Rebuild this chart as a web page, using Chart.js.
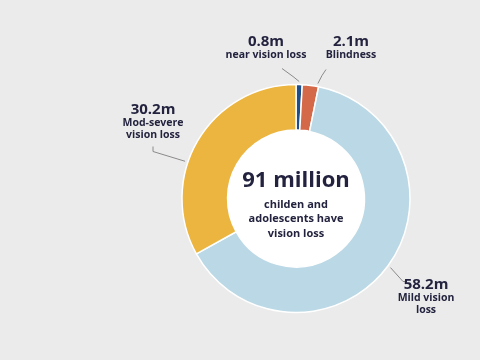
<!DOCTYPE html>
<html>
<head>
<meta charset="utf-8">
<script src="https://cdn.jsdelivr.net/npm/chart.js@4.4.0/dist/chart.umd.min.js"></script>
<style>
  html, body { margin: 0; padding: 0; background: #ebebeb; }
  canvas { display: block; }
</style>
</head>
<body>
<canvas id="chart" width="480" height="360"></canvas>
<script>
/* ================= DATA ================= */
const categories = ["near vision loss", "Blindness", "Mild vision loss", "Mod-severe vision loss"];
const values = [0.8, 2.1, 58.2, 30.2];
const valueLabels = ["0.8m", "2.1m", "58.2m", "30.2m"];
const labelLines = [["near vision loss"], ["Blindness"], ["Mild vision", "loss"], ["Mod-severe", "vision loss"]];
const centerTitle = "91 million";
const centerLines = ["childen and", "adolescents have", "vision loss"];

/* ================= STYLE ================= */
const COLORS = ["#1d4e89", "#d4694a", "#bad8e5", "#ebb540"];
const INK = "#23233f";
const FONT = "'Open Sans', sans-serif";

// label placement, relative to the donut centre (text x, baseline y)
// anchor = where on the slice the leader starts (0..1), elbow/end = leader path
const LABEL_POS = [
  { x: -30, y: -153, anchor: 0.5, elbow: [-3, -122], end: [-14, -130] },
  { x: 55, y: -153, anchor: 0.92, elbow: [26, -123], end: [30, -129] },
  { x: 130, y: 90, anchor: 0.5, elbow: [107, 83], end: [110, 83] },
  { x: -143, y: -85, anchor: 0.4, elbow: [-143, -47], end: [-143, -52] }
];

/* ================= PLUGINS ================= */
const centerText = {
  id: "centerText",
  beforeDatasetsDraw(chart) {
    // white hole in the middle of the ring
    const arc = chart.getDatasetMeta(0).data[0];
    const ctx = chart.ctx;
    ctx.save();
    ctx.fillStyle = "#ffffff";
    ctx.beginPath();
    ctx.arc(arc.x, arc.y, arc.innerRadius, 0, Math.PI * 2);
    ctx.fill();
    ctx.restore();
  },
  afterDraw(chart) {
    const arc = chart.getDatasetMeta(0).data[0];
    const { x, y } = arc;
    const ctx = chart.ctx;
    ctx.save();
    ctx.fillStyle = INK;
    ctx.textAlign = "center";
    ctx.textBaseline = "alphabetic";
    ctx.font = `bold 22px ${FONT}`;
    ctx.fillText(centerTitle, x, y - 12);
    ctx.font = `bold 11px ${FONT}`;
    centerLines.forEach((line, i) => ctx.fillText(line, x, y + 9 + i * 14.5));
    ctx.restore();
  }
};

const sliceLabels = {
  id: "sliceLabels",
  afterDraw(chart) {
    const arcs = chart.getDatasetMeta(0).data;
    const ctx = chart.ctx;
    ctx.save();
    arcs.forEach((arc, i) => {
      const pos = LABEL_POS[i];
      const cx = arc.x, cy = arc.y;
      const a = arc.startAngle + (arc.endAngle - arc.startAngle) * pos.anchor;
      const r = arc.outerRadius + 3;

      // leader line
      ctx.strokeStyle = "#8a8a8a";
      ctx.lineWidth = 1;
      ctx.beginPath();
      ctx.moveTo(cx + Math.cos(a) * r, cy + Math.sin(a) * r);
      ctx.lineTo(cx + pos.elbow[0], cy + pos.elbow[1]);
      ctx.lineTo(cx + pos.end[0], cy + pos.end[1]);
      ctx.stroke();

      // value + name
      const tx = cx + pos.x, ty = cy + pos.y;
      ctx.fillStyle = INK;
      ctx.textAlign = "center";
      ctx.textBaseline = "alphabetic";
      ctx.font = `bold 15px ${FONT}`;
      ctx.fillText(valueLabels[i], tx, ty);
      ctx.font = `bold 10.5px ${FONT}`;
      labelLines[i].forEach((line, j) => ctx.fillText(line, tx, ty + 12.5 + j * 12));
    });
    ctx.restore();
  }
};

/* ================= CHART ================= */
new Chart(document.getElementById("chart"), {
  type: "doughnut",
  data: {
    labels: categories,
    datasets: [{
      data: values,
      backgroundColor: COLORS,
      borderColor: "#ffffff",
      borderWidth: 1.5,
      radius: 114,
      cutout: 68
    }]
  },
  options: {
    responsive: false,
    animation: false,
    layout: { padding: { left: 182, right: 70, top: 84, bottom: 47 } },
    plugins: {
      legend: { display: false },
      tooltip: { enabled: false }
    }
  },
  plugins: [centerText, sliceLabels]
});
</script>
</body>
</html>
